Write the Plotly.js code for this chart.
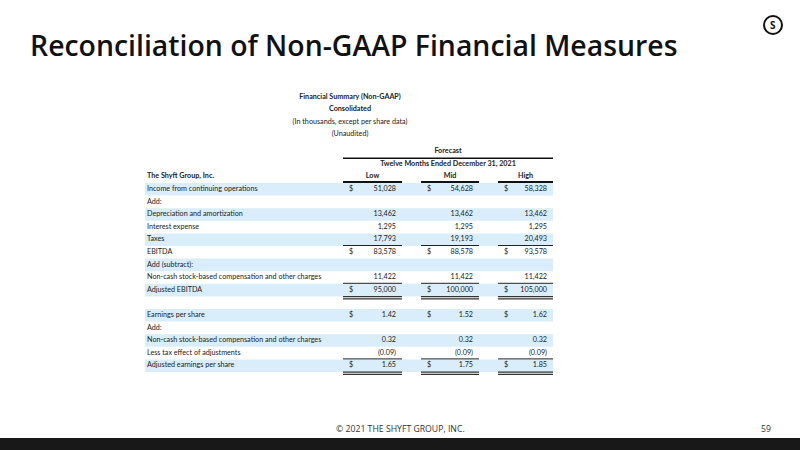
<!DOCTYPE html>
<html>
<head>
<meta charset="utf-8">
<script src="https://cdn.plot.ly/plotly-3.0.1.min.js"></script>
<style>html,body{margin:0;padding:0;background:#fff;}#chart{width:800px;height:450px;}</style>
</head>
<body>
<div id="chart"></div>
<script>
// ---------- data ----------
const slideTitle = "Reconciliation of Non-GAAP Financial Measures";
const headerLines = ["Financial Summary (Non-GAAP)", "Consolidated", "(In thousands, except per share data)", "(Unaudited)"];
const headerBold = [true, true, false, false];
const forecastTitle = "Forecast";
const periodTitle = "Twelve Months Ended December 31, 2021";
const companyLabel = "The Shyft Group, Inc.";
const columnNames = ["Low", "Mid", "High"];
const rowLabels = [
  "Income from continuing operations",
  "Add:",
  "Depreciation and amortization",
  "Interest expense",
  "Taxes",
  "EBITDA",
  "Add (subtract):",
  "Non-cash stock-based compensation and other charges",
  "Adjusted EBITDA",
  "",
  "Earnings per share",
  "Add:",
  "Non-cash stock-based compensation and other charges",
  "Less tax effect of adjustments",
  "Adjusted earnings per share"
];
const lowValues  = [51028, null, 13462, 1295, 17793, 83578, null, 11422,  95000, null, 1.42, null, 0.32, -0.09, 1.65];
const midValues  = [54628, null, 13462, 1295, 19193, 88578, null, 11422, 100000, null, 1.52, null, 0.32, -0.09, 1.75];
const highValues = [58328, null, 13462, 1295, 20493, 93578, null, 11422, 105000, null, 1.62, null, 0.32, -0.09, 1.85];
const perShareRows = [10, 11, 12, 13, 14];
const dollarRows = [0, 5, 8, 10, 14];
const singleRuleRows = [4, 7, 13];
const doubleRuleRows = [8, 14];
const footerText = "© 2021 THE SHYFT GROUP, INC.";
const pageNumber = "59";

// ---------- layout constants ----------
const W = 800, H = 450;
const tableLeft = 145, tableRight = 553;
const labelX = 147;
const firstRowTop = 183, rowH = 12.6;
const colLeft = [343, 421, 498];
const colRight = [402, 479, 553];
const headerTop = 97, headerStep = 12.4, headerCenterX = 350;
const blue = "#d9eefa";
const txt = "#222222";
const tableFont = "Lato, 'Noto Sans', sans-serif";
const tSize = 7.2;

const rowY = i => firstRowTop + rowH * (i + 0.5);
const rowBottom = i => firstRowTop + rowH * (i + 1);

function fmt(v, i) {
  if (v === null) return "";
  const perShare = perShareRows.includes(i);
  const a = Math.abs(v);
  const s = perShare ? a.toFixed(2) : a.toLocaleString("en-US");
  return v < 0 ? "(" + s + ")" : s;
}

const traces = [];
const idx = rowLabels.map((_, i) => i);

// row labels
traces.push({
  type: "scatter", mode: "text", x: idx.map(() => labelX), y: idx.map(rowY),
  text: rowLabels, textposition: "middle right", cliponaxis: false, hoverinfo: "skip",
  textfont: {family: tableFont, size: tSize, color: txt}
});
// values
[lowValues, midValues, highValues].forEach((vals, c) => {
  traces.push({
    type: "scatter", mode: "text", x: idx.map(() => colRight[c] - 6), y: idx.map(rowY),
    text: vals.map(fmt), textposition: "middle left", cliponaxis: false, hoverinfo: "skip",
    textfont: {family: tableFont, size: tSize, color: txt}
  });
  traces.push({
    type: "scatter", mode: "text", x: dollarRows.map(() => colLeft[c] + 8), y: dollarRows.map(rowY),
    text: dollarRows.map(() => "$"), textposition: "middle center", cliponaxis: false, hoverinfo: "skip",
    textfont: {family: tableFont, size: tSize, color: txt}
  });
});
// column headers
traces.push({
  type: "scatter", mode: "text", x: colLeft.map((l, c) => (l + colRight[c]) / 2), y: columnNames.map(() => rowY(-1)),
  text: columnNames.map(s => "<b>" + s + "</b>"), textposition: "middle center", cliponaxis: false, hoverinfo: "skip",
  textfont: {family: tableFont, size: tSize, color: txt}
});
traces.push({
  type: "scatter", mode: "text", x: [labelX], y: [rowY(-1)],
  text: ["<b>" + companyLabel + "</b>"], textposition: "middle right", cliponaxis: false, hoverinfo: "skip",
  textfont: {family: tableFont, size: tSize, color: txt}
});
const fcX = (colLeft[0] + colRight[2]) / 2;
traces.push({
  type: "scatter", mode: "text", x: [fcX, fcX], y: [rowY(-3), rowY(-2)],
  text: ["<b>" + forecastTitle + "</b>", "<b>" + periodTitle + "</b>"], textposition: "middle center", cliponaxis: false, hoverinfo: "skip",
  textfont: {family: tableFont, size: tSize, color: txt}
});
traces.push({
  type: "scatter", mode: "text", x: headerLines.map(() => headerCenterX), y: headerLines.map((_, k) => headerTop + headerStep * k),
  text: headerLines.map((s, k) => headerBold[k] ? "<b>" + s + "</b>" : s), textposition: "middle center", cliponaxis: false, hoverinfo: "skip",
  textfont: {family: tableFont, size: tSize, color: txt}
});

// ---------- shapes ----------
const shapes = [];
idx.forEach(i => {
  if (i % 2 === 0) shapes.push({type: "rect", xref: "x", yref: "y", x0: tableLeft, x1: tableRight, y0: rowBottom(i) - rowH, y1: rowBottom(i), fillcolor: blue, line: {width: 0}, layer: "below"});
});
// header rules
colLeft.forEach((l, c) => shapes.push({type: "line", xref: "x", yref: "y", x0: l, x1: colRight[c], y0: firstRowTop - 1, y1: firstRowTop - 1, line: {color: "#111", width: 2}}));
shapes.push({type: "line", xref: "x", yref: "y", x0: colLeft[0], x1: colRight[2], y0: rowBottom(-3) + 0.5, y1: rowBottom(-3) + 0.5, line: {color: "#111", width: 1.5}});
singleRuleRows.forEach(i => colLeft.forEach((l, c) => shapes.push({type: "line", xref: "x", yref: "y", x0: l, x1: colRight[c], y0: rowBottom(i) - 0.5, y1: rowBottom(i) - 0.5, line: {color: "#222", width: 1}})));
doubleRuleRows.forEach(i => colLeft.forEach((l, c) => {
  [0.2, 2.4].forEach(d => shapes.push({type: "line", xref: "x", yref: "y", x0: l, x1: colRight[c], y0: rowBottom(i) + d, y1: rowBottom(i) + d, line: {color: "#333", width: 1.2}}));
}));
// footer bar
shapes.push({type: "rect", xref: "x", yref: "y", x0: 0, x1: W, y0: 438, y1: H, fillcolor: "#181818", line: {width: 0}});
// logo ring
shapes.push({type: "circle", xref: "x", yref: "y", x0: 764, x1: 782, y0: 16, y1: 34, line: {color: "#111", width: 2}});

const annotations = [
  {xref: "x", yref: "y", x: 28, y: 45, xanchor: "left", yanchor: "middle", showarrow: false, text: slideTitle,
   font: {family: "'Open Sans', 'Noto Sans', sans-serif", size: 28.4, color: "#111", weight: 600}},
  {xref: "x", yref: "y", x: 400, y: 429, xanchor: "center", yanchor: "middle", showarrow: false, text: footerText,
   font: {family: "'Open Sans', sans-serif", size: 8.7, color: "#333"}},
  {xref: "x", yref: "y", x: 766, y: 429, xanchor: "center", yanchor: "middle", showarrow: false, text: pageNumber,
   font: {family: "'Open Sans', sans-serif", size: 8.7, color: "#333"}},
  {xref: "x", yref: "y", x: 773, y: 25, xanchor: "center", yanchor: "middle", showarrow: false, text: "<b>S</b>",
   font: {family: "'Open Sans', sans-serif", size: 10, color: "#111"}}
];

const layout = {
  width: W, height: H, margin: {l: 0, r: 0, t: 0, b: 0},
  paper_bgcolor: "#fff", plot_bgcolor: "#fff", showlegend: false,
  xaxis: {range: [0, W], visible: false, fixedrange: true},
  yaxis: {range: [H, 0], visible: false, fixedrange: true},
  shapes: shapes, annotations: annotations
};
Plotly.newPlot("chart", traces, layout, {staticPlot: true, displayModeBar: false});
</script>
</body>
</html>
